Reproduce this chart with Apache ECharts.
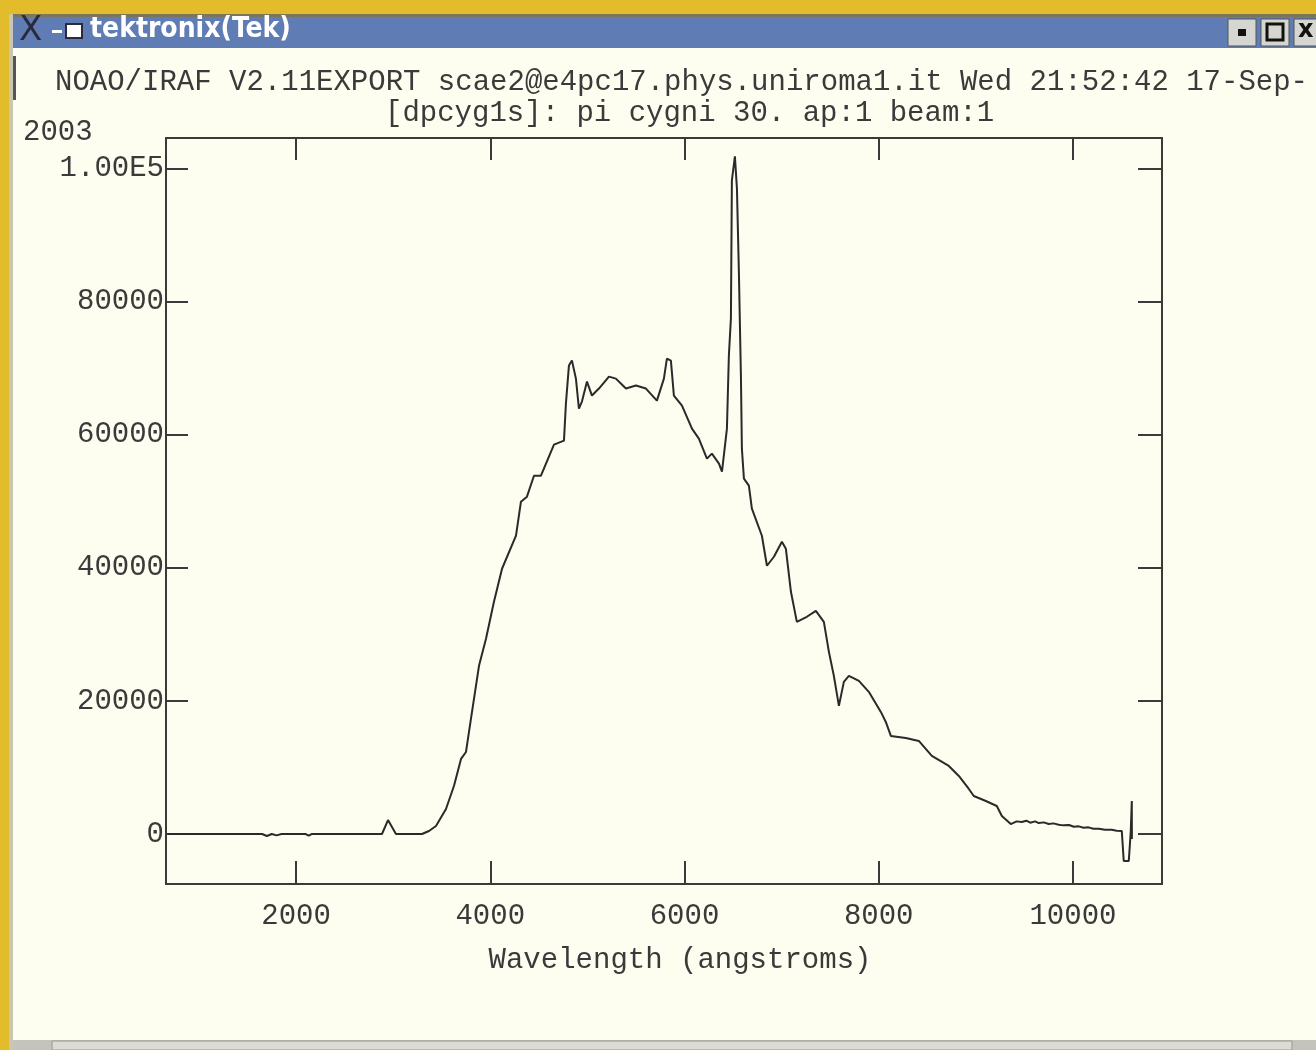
<!DOCTYPE html>
<html lang="en">
  <head>
    <meta charset="UTF-8" />
    <title>tektronix(Tek) - pi cygni spectrum</title>
    <style>
      html,
      body {
        width: 100%;
        height: 100%;
        overflow: hidden;
        margin: 0;
      }
      #main {
        width: 1316px;
        height: 1050px;
      }
    </style>
  </head>
  <body>
    <div id="main"></div>
    <script src="https://cdn.jsdelivr.net/npm/echarts@6/dist/echarts.min.js"></script>
    <script>
      // spectrum (wavelength in angstroms, flux in counts)
      const wavelength = [
        680, 900, 1650, 1700, 1750, 1800, 1850, 2100, 2130, 2160, 2885, 2947, 3029, 3297,
        3369, 3441, 3544, 3626, 3699, 3750, 3801, 3884, 3956, 4038, 4121, 4265, 4316,
        4378, 4450, 4522, 4656, 4759, 4779, 4810, 4841, 4882, 4913, 4944, 4996, 5047,
        5119, 5222, 5294, 5397, 5500, 5603, 5716, 5788, 5819, 5860, 5891, 5974, 6077,
        6148, 6231, 6282, 6355, 6386, 6406, 6437, 6457, 6478, 6488, 6519, 6540, 6560,
        6581, 6591, 6612, 6663, 6694, 6797, 6849, 6921, 7003, 7044, 7096, 7157, 7260,
        7353, 7435, 7487, 7538, 7590, 7641, 7693, 7796, 7898, 8022, 8073, 8125, 8279,
        8413, 8547, 8722, 8825, 8928, 8979, 9103, 9216, 9268, 9360, 9420, 9473, 9520,
        9560, 9610, 9648, 9700, 9750, 9800, 9854, 9900, 9960, 10010, 10060, 10110, 10160,
        10210, 10266, 10330, 10400, 10450, 10503, 10523, 10575, 10595, 10606, 10607
      ];
      const flux = [
        0, 0, 0, -300, 0, -200, 0, 0, -250, 0, 0, 2100, 0, 0,
        450, 1200, 3760, 7220, 11280, 12330, 17300, 25270, 29330, 34890, 39860, 44820, 49930,
        50690, 53840, 53840, 58500, 59110, 64670, 70390, 71140, 68430, 63920, 64970, 67980, 65880,
        66930, 68730, 68430, 66930, 67380, 66930, 65120, 68430, 71440, 71140, 65880, 64370, 60910,
        59410, 56400, 57150, 55650, 54440, 54440, 60910, 71890, 77460, 98210, 101820, 97010, 84520,
        68880, 57900, 53390, 52340, 48880, 44820, 40310, 41660, 43920, 42860, 36400, 31880, 32640,
        33540, 31880, 27370, 23760, 19250, 22860, 23760, 23010, 21360, 18350, 16840, 14740, 14440,
        13990, 11730, 10230, 8720, 6770, 5710, 4960, 4210, 2710, 1500, 1900, 1800, 2000,
        1700, 1900, 1650, 1750, 1500, 1600, 1400, 1300, 1350, 1100, 1150, 950, 1000,
        800, 800, 650, 650, 500, 450, -4060, -4060, 300, 4960, -750
      ];
      const xTicks = [2000, 4000, 6000, 8000, 10000];
      const yTicks = [0, 20000, 40000, 60000, 80000, 100000];

      const ink = "#3a3a3a";
      const mono = "'Liberation Mono', 'DejaVu Sans Mono', monospace";
      const xMin = 661;
      const xMax = 10917;
      const yMin = -7510;
      const yMax = 104580;

      function yLabel(v) {
        return v === 100000 ? "1.00E5" : String(v);
      }

      const frameAxis = {
        type: "value",
        axisLine: { show: true, onZero: false, lineStyle: { color: ink, width: 2 } },
        splitLine: { show: false },
      };

      const option = {
        animation: false,
        backgroundColor: "#fdfdf0",
        grid: { left: 166, top: 138, width: 996, height: 746 },
        xAxis: [
          {
            ...frameAxis,
            position: "bottom",
            min: xMin,
            max: xMax,
            axisTick: { inside: true, length: 23, customValues: xTicks, lineStyle: { color: ink, width: 2 } },
            axisLabel: {
              customValues: xTicks,
              margin: 18,
              color: ink,
              fontFamily: mono,
              fontSize: 29,
              formatter: (v) => String(v),
            },
            name: "Wavelength (angstroms)",
            nameLocation: "middle",
            nameGap: 62,
            nameTextStyle: { color: ink, fontFamily: mono, fontSize: 29, padding: [0, 0, 0, 32] },
          },
          {
            ...frameAxis,
            position: "top",
            min: xMin,
            max: xMax,
            axisTick: { inside: true, length: 22, customValues: xTicks, lineStyle: { color: ink, width: 2 } },
            axisLabel: { show: false },
          },
        ],
        yAxis: [
          {
            ...frameAxis,
            position: "left",
            min: yMin,
            max: yMax,
            axisTick: { inside: true, length: 22, customValues: yTicks, lineStyle: { color: ink, width: 2 } },
            axisLabel: {
              customValues: yTicks,
              margin: 2,
              color: ink,
              fontFamily: mono,
              fontSize: 29,
              formatter: yLabel,
            },
          },
          {
            ...frameAxis,
            position: "right",
            min: yMin,
            max: yMax,
            axisTick: { inside: true, length: 24, customValues: yTicks, lineStyle: { color: ink, width: 2 } },
            axisLabel: { show: false },
          },
        ],
        series: [
          {
            type: "line",
            name: "pi cygni",
            xAxisIndex: 0,
            yAxisIndex: 0,
            symbol: "none",
            lineStyle: { color: "#2a2a2a", width: 2 },
            data: wavelength.map((w, i) => [w, flux[i]]),
          },
        ],
        graphic: [
          // yellow desktop around the window
          { type: "rect", shape: { x: 0, y: 0, width: 1316, height: 14 }, style: { fill: "#e2bc2a" } },
          { type: "rect", shape: { x: 0, y: 0, width: 9, height: 1050 }, style: { fill: "#e2bc2a" } },
          { type: "rect", shape: { x: 9, y: 14, width: 1307, height: 3 }, style: { fill: "#7a7460" } },
          { type: "rect", shape: { x: 9, y: 14, width: 4, height: 1036 }, style: { fill: "#c9c6b4" } },
          // title bar
          { type: "rect", shape: { x: 13, y: 17, width: 1303, height: 31 }, style: { fill: "#5f7db4" } },
          {
            type: "text",
            x: 19,
            y: 14,
            style: { text: "X", fill: "#2a2a3a", font: "34px 'DejaVu Sans'" },
          },
          { type: "rect", shape: { x: 52, y: 30, width: 10, height: 3 }, style: { fill: "#ffffff" } },
          { type: "rect", shape: { x: 66, y: 24, width: 16, height: 14 }, style: { fill: "#ffffff", stroke: "#2a2a3a", lineWidth: 2 } },
          {
            type: "text",
            x: 90,
            y: 16,
            style: {
              text: "tektronix(Tek)",
              fill: "#ffffff",
              font: "bold 28px 'DejaVu Sans Condensed', 'DejaVu Sans'",
            },
          },
          // window buttons
          { type: "rect", shape: { x: 1228, y: 19, width: 28, height: 27 }, style: { fill: "#d6d6d0", stroke: "#555", lineWidth: 1 } },
          { type: "rect", shape: { x: 1238, y: 29, width: 8, height: 7 }, style: { fill: "#111" } },
          { type: "rect", shape: { x: 1261, y: 19, width: 28, height: 27 }, style: { fill: "#d6d6d0", stroke: "#555", lineWidth: 1 } },
          { type: "rect", shape: { x: 1267, y: 24, width: 16, height: 16 }, style: { fill: "none", stroke: "#111", lineWidth: 3 } },
          { type: "rect", shape: { x: 1294, y: 19, width: 24, height: 27 }, style: { fill: "#d6d6d0", stroke: "#555", lineWidth: 1 } },
          { type: "text", x: 1298, y: 19, style: { text: "x", fill: "#111", font: "bold 24px 'DejaVu Sans'" } },
          // bottom scrollbar strip
          { type: "rect", shape: { x: 13, y: 1040, width: 1303, height: 10 }, style: { fill: "#c4c4bc" } },
          { type: "rect", shape: { x: 52, y: 1041, width: 1240, height: 9 }, style: { fill: "#dcdcd4", stroke: "#9a9a92", lineWidth: 1 } },
          { type: "rect", shape: { x: 13, y: 56, width: 3, height: 44 }, style: { fill: "#555" } },
          // IRAF header lines
          {
            type: "text",
            x: 55,
            y: 68,
            style: {
              text: "NOAO/IRAF V2.11EXPORT scae2@e4pc17.phys.uniroma1.it Wed 21:52:42 17-Sep-",
              fill: ink,
              font: "29px " + mono,
            },
          },
          {
            type: "text",
            x: 385,
            y: 99,
            style: { text: "[dpcyg1s]: pi cygni 30. ap:1 beam:1", fill: ink, font: "29px " + mono },
          },
          {
            type: "text",
            x: 23,
            y: 118,
            style: { text: "2003", fill: ink, font: "29px " + mono },
          },
        ],
      };

      const myChart = echarts.init(document.getElementById("main"));
      myChart.setOption(option);
    </script>
  </body>
</html>
